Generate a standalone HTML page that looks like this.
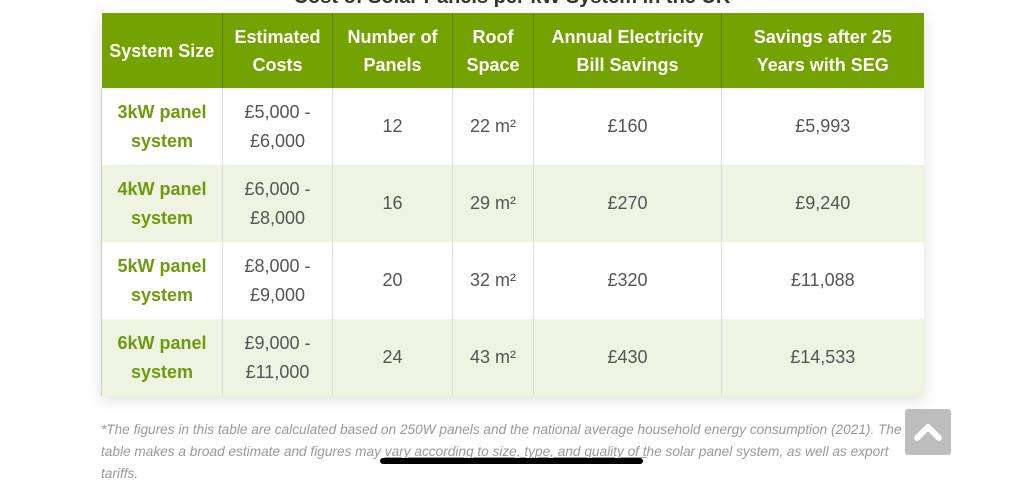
<!DOCTYPE html>
<html><head><meta charset="utf-8"><style>
body{margin:0;width:1024px;height:473px;overflow:hidden;background:#fff;font-family:"Liberation Sans",sans-serif;position:relative}
.title{position:absolute;left:0;width:1024px;top:-14px;text-align:center;font-weight:bold;font-size:20px;color:#333}
table{position:absolute;left:101px;top:13px;border-collapse:collapse;table-layout:fixed;box-shadow:0 4px 14px rgba(0,0,0,.12)}
th{background:#74a201;color:#fff;font-size:18px;font-weight:bold;line-height:28px;height:75px;padding:0 4px;border-left:1px solid #5a7f00;text-align:center}
th:first-child{border-left:none}
td{font-size:18px;color:#555;line-height:29px;text-align:center;border-left:1px solid #ddd;padding:0 4px}
td:first-child{border-left:1px solid #ccc;color:#6f9a0e;font-weight:bold}
tr.r td{height:77px}
tr.alt td{background:#eef3e2}
.note{position:absolute;left:101px;font-style:italic;font-size:14px;color:#999;white-space:nowrap;transform-origin:0 0;transform:scaleX(.975)}
.btn{position:absolute;left:905px;top:409px;width:46px;height:46px;background:#bdbdbd;border-radius:3px}
.bar{position:absolute;left:380px;top:458px;width:263px;height:6px;background:#000;border-radius:3px}
</style></head><body>
<div class="title">Cost of Solar Panels per kW System in the UK</div>
<table>
<colgroup><col style="width:121px"><col style="width:110px"><col style="width:120px"><col style="width:81px"><col style="width:188px"><col style="width:202px"></colgroup>
<tr><th>System Size</th><th>Estimated Costs</th><th>Number of Panels</th><th>Roof Space</th><th>Annual Electricity<br>Bill Savings</th><th>Savings after 25<br>Years with SEG</th></tr>
<tr class="r"><td>3kW panel system</td><td>£5,000 - £6,000</td><td>12</td><td>22 m²</td><td>£160</td><td>£5,993</td></tr>
<tr class="r alt"><td>4kW panel system</td><td>£6,000 - £8,000</td><td>16</td><td>29 m²</td><td>£270</td><td>£9,240</td></tr>
<tr class="r"><td>5kW panel system</td><td>£8,000 - £9,000</td><td>20</td><td>32 m²</td><td>£320</td><td>£11,088</td></tr>
<tr class="r alt"><td>6kW panel system</td><td>£9,000 - £11,000</td><td>24</td><td>43 m²</td><td>£430</td><td>£14,533</td></tr>
</table>
<div class="note" style="top:421px">*The figures in this table are calculated based on 250W panels and the national average household energy consumption (2021). The</div>
<div class="note" style="top:443px">table makes a broad estimate and figures may <u>vary according to size, type, and quality of t</u>he solar panel system, as well as export</div>
<div class="note" style="top:465px">tariffs.</div>
<div class="btn"><svg width="46" height="46"><path d="M12 29 L23 18 L34 29" stroke="#fff" stroke-width="6" fill="none" stroke-linecap="round" stroke-linejoin="round"/></svg></div>
<div class="bar"></div>
</body></html>
